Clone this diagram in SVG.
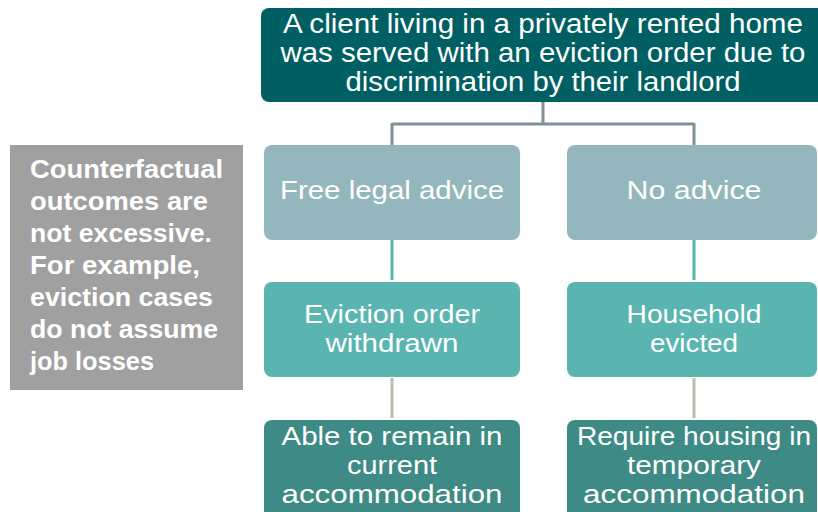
<svg xmlns="http://www.w3.org/2000/svg" width="818" height="512" viewBox="0 0 818 512">
<style>
text{font-family:"Liberation Sans",Arial,sans-serif;fill:#fff;text-anchor:middle}
.t{font-size:27px}
.m{font-size:25px}
.s{font-size:25px;font-weight:bold;text-anchor:start}
</style>
<rect width="818" height="512" fill="#fff"/>
<g id="connectors" fill="none">
<path d="M543 102V124M392 124H694M392 123V146M694 123V146" stroke="#7F9196" stroke-width="3"/>
<path d="M392 240V280M694 240V280" stroke="#5AB5B0" stroke-width="3"/>
<path d="M392 378V418M694 378V418" stroke="#BDBBB0" stroke-width="3"/>
</g>
<g id="n_top">
<rect x="261" y="8" width="570" height="94" rx="8" fill="#005F63"/>
<text class="t" x="543" y="33" textLength="520" lengthAdjust="spacingAndGlyphs">A client living in a privately rented home</text>
<text class="t" x="543" y="62" textLength="525" lengthAdjust="spacingAndGlyphs">was served with an eviction order due to</text>
<text class="t" x="543" y="91" textLength="395" lengthAdjust="spacingAndGlyphs">discrimination by their landlord</text>
</g>
<g id="n_note">
<rect x="10" y="145" width="233" height="245" fill="#A0A0A0"/>
<text class="s" x="30" y="178" textLength="193" lengthAdjust="spacingAndGlyphs">Counterfactual</text>
<text class="s" x="30" y="210" textLength="178" lengthAdjust="spacingAndGlyphs">outcomes are</text>
<text class="s" x="30" y="242" textLength="182" lengthAdjust="spacingAndGlyphs">not excessive.</text>
<text class="s" x="30" y="274" textLength="170" lengthAdjust="spacingAndGlyphs">For example,</text>
<text class="s" x="30" y="306" textLength="183" lengthAdjust="spacingAndGlyphs">eviction cases</text>
<text class="s" x="30" y="338" textLength="188" lengthAdjust="spacingAndGlyphs">do not assume</text>
<text class="s" x="30" y="370" textLength="124" lengthAdjust="spacingAndGlyphs">job losses</text>
</g>
<g id="n_free">
<rect x="264" y="145" width="256" height="95" rx="8" fill="#93B7BC"/>
<text class="m" x="392" y="199" textLength="224" lengthAdjust="spacingAndGlyphs">Free legal advice</text>
</g>
<g id="n_noadv">
<rect x="567" y="145" width="250" height="95" rx="8" fill="#93B7BC"/>
<text class="m" x="694" y="199" textLength="135" lengthAdjust="spacingAndGlyphs">No advice</text>
</g>
<g id="n_withdrawn">
<rect x="264" y="282" width="256" height="95" rx="8" fill="#5AB5B0"/>
<text class="m" x="392" y="323" textLength="176" lengthAdjust="spacingAndGlyphs">Eviction order</text>
<text class="m" x="392" y="352" textLength="133" lengthAdjust="spacingAndGlyphs">withdrawn</text>
</g>
<g id="n_evicted">
<rect x="567" y="282" width="250" height="95" rx="8" fill="#5AB5B0"/>
<text class="m" x="694" y="323" textLength="135" lengthAdjust="spacingAndGlyphs">Household</text>
<text class="m" x="694" y="352" textLength="88" lengthAdjust="spacingAndGlyphs">evicted</text>
</g>
<g id="n_remain">
<rect x="264" y="420" width="256" height="110" rx="8" fill="#3E8A84"/>
<text class="m" x="392" y="445" textLength="221" lengthAdjust="spacingAndGlyphs">Able to remain in</text>
<text class="m" x="392" y="474" textLength="90" lengthAdjust="spacingAndGlyphs">current</text>
<text class="m" x="392" y="503" textLength="221" lengthAdjust="spacingAndGlyphs">accommodation</text>
</g>
<g id="n_temp">
<rect x="567" y="420" width="250" height="110" rx="8" fill="#3E8A84"/>
<text class="m" x="694" y="445" textLength="234" lengthAdjust="spacingAndGlyphs">Require housing in</text>
<text class="m" x="694" y="474" textLength="134" lengthAdjust="spacingAndGlyphs">temporary</text>
<text class="m" x="694" y="503" textLength="222" lengthAdjust="spacingAndGlyphs">accommodation</text>
</g>
</svg>
